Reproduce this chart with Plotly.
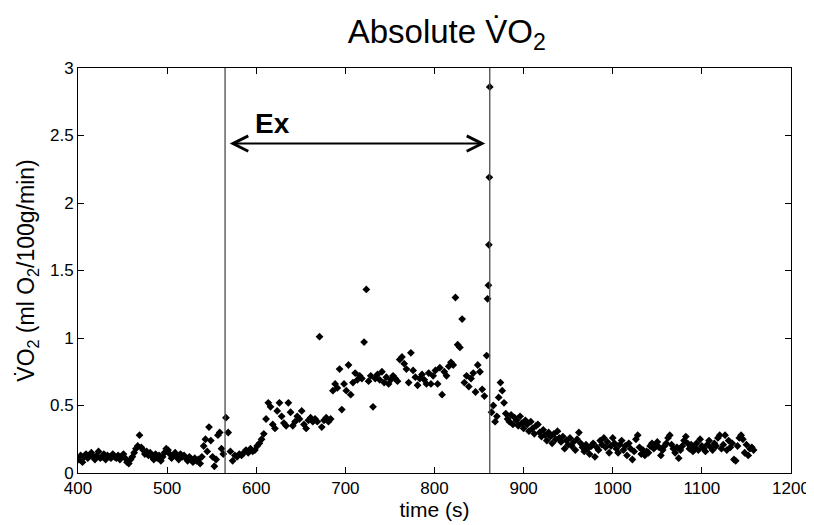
import numpy as np
import plotly.graph_objects as go

# ---- data ----
pre_start, pre_dt = 401, 2
ex_start, ex_dt = 566, 2.5
post_start, post_dt = 864, 2

vo2_pre = [0.10, 0.13, 0.08, 0.12, 0.14, 0.11, 0.13, 0.15, 0.12, 0.10,
           0.13, 0.16, 0.11, 0.12, 0.14, 0.10, 0.13, 0.12, 0.11, 0.14,
           0.12, 0.11, 0.13, 0.10, 0.12, 0.14, 0.11, 0.08, 0.07, 0.10,
           0.12, 0.15, 0.18, 0.20, 0.28, 0.19, 0.17, 0.14, 0.16, 0.13,
           0.15, 0.12, 0.10, 0.14, 0.11, 0.13, 0.09, 0.12, 0.15, 0.18,
           0.17, 0.14, 0.11, 0.13, 0.15, 0.12, 0.10, 0.14, 0.12, 0.13,
           0.11, 0.09, 0.12, 0.10, 0.08, 0.11, 0.09, 0.10, 0.07, 0.12,
           0.20, 0.25, 0.16, 0.34, 0.24, 0.12, 0.05, 0.10, 0.28, 0.30, 0.18, 0.14]

vo2_ex = [0.41, 0.30, 0.16, 0.09, 0.13, 0.12, 0.14, 0.13, 0.15, 0.17,
          0.15, 0.18, 0.16, 0.17, 0.20, 0.22, 0.25, 0.29, 0.40, 0.52,
          0.49, 0.36, 0.33, 0.46, 0.52, 0.42, 0.37, 0.35, 0.52, 0.45,
          0.35, 0.38, 0.42, 0.40, 0.46, 0.36, 0.33, 0.39, 0.41, 0.38,
          0.40, 0.38, 1.01, 0.34, 0.39, 0.41, 0.38, 0.40, 0.61, 0.66,
          0.63, 0.77, 0.47, 0.66, 0.61, 0.80, 0.58, 0.67, 0.74, 0.69,
          0.72, 0.70, 0.97, 1.36, 0.68, 0.72, 0.49, 0.70, 0.73, 0.69,
          0.75, 0.67, 0.71, 0.66, 0.69, 0.72, 0.70, 0.68, 0.84, 0.86,
          0.81, 0.77, 0.67, 0.89, 0.76, 0.71, 0.65, 0.70, 0.73, 0.69,
          0.66, 0.74, 0.66, 0.72, 0.76, 0.66, 0.78, 0.58, 0.75, 0.72,
          0.79, 0.82, 0.80, 1.30, 0.95, 0.93, 1.14, 0.67, 0.72, 0.64,
          0.70, 0.74, 0.60, 0.80, 0.75, 0.62, 0.57, 0.87]

t_spike = [859.5, 860.5, 861.0, 861.5, 862.0]
vo2_spike = [1.29, 1.39, 1.69, 2.19, 2.86]

vo2_post = [0.45, 0.50, 0.38, 0.42, 0.56, 0.67, 0.61, 0.52, 0.44, 0.40,
            0.38, 0.43, 0.36, 0.41, 0.39, 0.35, 0.42, 0.37, 0.33, 0.39,
            0.36, 0.31, 0.38, 0.33, 0.29, 0.35, 0.36, 0.30, 0.27, 0.32,
            0.28, 0.24, 0.30, 0.27, 0.22, 0.29, 0.25, 0.31, 0.26, 0.23,
            0.27, 0.18, 0.24, 0.21, 0.26, 0.20, 0.23, 0.17, 0.25, 0.30,
            0.22, 0.19, 0.16, 0.21, 0.18, 0.14, 0.20, 0.22, 0.12, 0.19,
            0.17, 0.24, 0.21, 0.26, 0.19, 0.23, 0.15, 0.20, 0.26, 0.22,
            0.18, 0.15, 0.21, 0.24, 0.17, 0.20, 0.13, 0.22, 0.18, 0.10,
            0.16, 0.25, 0.28, 0.19, 0.14, 0.17, 0.13, 0.16, 0.15, 0.20,
            0.22, 0.18, 0.21, 0.23, 0.19, 0.13, 0.17, 0.20, 0.22, 0.26,
            0.28, 0.21, 0.18, 0.15, 0.19, 0.11, 0.17, 0.20, 0.24, 0.27,
            0.22, 0.18, 0.21, 0.16, 0.19, 0.22, 0.17, 0.25, 0.20, 0.18,
            0.16, 0.21, 0.24, 0.19, 0.17, 0.22, 0.20, 0.26, 0.28, 0.18,
            0.21, 0.28, 0.17, 0.24, 0.19, 0.22, 0.10, 0.09, 0.20, 0.26,
            0.28, 0.25, 0.15, 0.21, 0.13, 0.18, 0.19, 0.17]

ex_on, ex_off = 565, 862
arrow_y = 2.44
arrow_x0, arrow_x1 = 568.5, 857
label_x, label_y = 618, 2.59
x_ticks = [400, 500, 600, 700, 800, 900, 1000, 1100, 1200]
y_ticks = [0, 0.5, 1, 1.5, 2, 2.5, 3]

# sampling times
t_pre = pre_start + pre_dt * np.arange(len(vo2_pre))
t_ex = ex_start + ex_dt * np.arange(len(vo2_ex))
t_post = post_start + post_dt * np.arange(len(vo2_post))

t_all = np.concatenate([t_pre, t_ex, t_spike, t_post])
v_all = np.concatenate([vo2_pre, vo2_ex, vo2_spike, vo2_post])

font = "Liberation Sans, Arial, sans-serif"
fig = go.Figure()
fig.add_trace(go.Scatter(x=t_all, y=v_all, mode="markers",
                         marker=dict(symbol="diamond", size=6, color="black"),
                         showlegend=False))

for xv in (ex_on, ex_off):
    fig.add_shape(type="line", x0=xv, x1=xv, y0=0, y1=1, xref="x", yref="paper",
                  line=dict(color="#4a4a4a", width=1.3))

fig.add_annotation(x=arrow_x1, y=arrow_y, ax=arrow_x0, ay=arrow_y,
                   xref="x", yref="y", axref="x", ayref="y", text="",
                   showarrow=True, arrowside="end+start", arrowhead=5,
                   arrowsize=1.5, arrowwidth=2, arrowcolor="black")
fig.add_annotation(x=label_x, y=label_y, xref="x", yref="y", text="<b>Ex</b>",
                   showarrow=False, font=dict(size=28, color="black", family=font))

axis_common = dict(showline=True, linecolor="black", linewidth=1, mirror="ticks",
                   ticks="inside", ticklen=6, tickcolor="black", showgrid=False,
                   zeroline=False, automargin=False,
                   tickfont=dict(size=17, color="black", family=font))

# the page body adds an 8 px offset, so margins are reduced accordingly
fig.update_layout(
    width=814, height=525,
    paper_bgcolor="white", plot_bgcolor="white",
    margin=dict(l=70, r=31, t=60, b=60),
    title=dict(text="Absolute V\u0307O<sub>2</sub>", xref="container", x=0.539,
               xanchor="center", yref="container", y=0.978, yanchor="top",
               font=dict(size=33, color="black", family=font)),
    xaxis=dict(range=[400, 1200], tickvals=x_ticks,
               title=dict(text="time (s)", standoff=2,
                          font=dict(size=21, color="black", family=font)),
               **axis_common),
    yaxis=dict(range=[0, 3], tickvals=y_ticks,
               title=dict(text="V\u0307O<sub>2</sub> (ml O<sub>2</sub>/100g/min)", standoff=8,
                          font=dict(size=23, color="black", family=font)),
               **axis_common),
)

fig.write_html("out.html")
